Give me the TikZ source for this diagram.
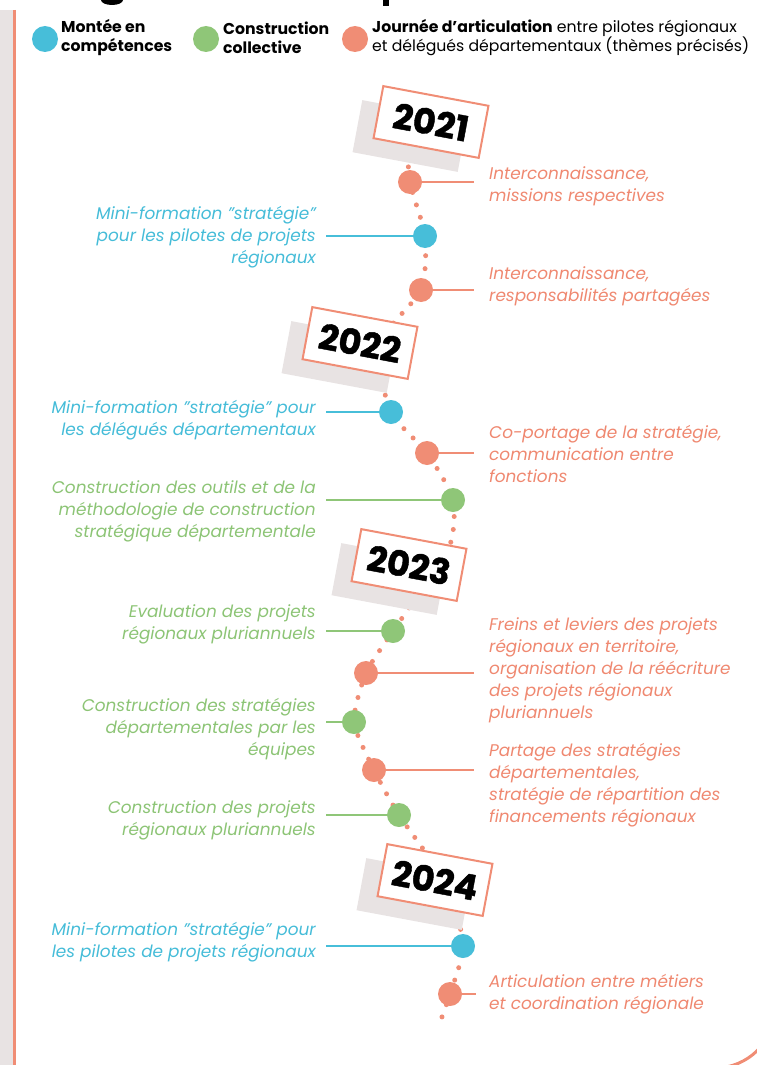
\documentclass[tikz,border=0pt]{standalone}
\usepackage{fontspec}
\setmainfont{Poppins}
\definecolor{cblue}{HTML}{47BED9}
\definecolor{cgreen}{HTML}{8FC678}
\definecolor{corange}{HTML}{F08D75}
\definecolor{tblue}{HTML}{45BCD8}
\definecolor{tgreen}{HTML}{8CC475}
\definecolor{torange}{HTML}{EF8870}
\definecolor{cshadow}{HTML}{E8E3E3}
\begin{document}
\begin{tikzpicture}[x=1pt,y=-1pt,
  evt/.style={circle, minimum size=24pt, inner sep=0pt},
  bdot/.style={evt, fill=cblue},
  gdot/.style={evt, fill=cgreen},
  odot/.style={evt, fill=corange},
  legdot/.style={circle, minimum size=26pt, inner sep=0pt},
  legtext/.style={anchor=west, align=left, inner sep=0pt, font=\fontsize{15.7}{19}\selectfont},
  rtext/.style={anchor=west, align=left, inner sep=0pt, font=\fontsize{16.9}{22}\selectfont\itshape},
  ltext/.style={anchor=east, align=right, inner sep=0pt, font=\fontsize{16.9}{22}\selectfont\itshape},
  yearbox/.style={draw=corange, line width=2pt, fill=white, minimum width=107pt, minimum height=53pt, rotate=-10.6, inner sep=0pt, font=\fontsize{35}{35}\selectfont\bfseries\addfontfeature{FakeBold=1.2}},
  yearshadow/.style={fill=cshadow, minimum width=107pt, minimum height=53pt, rotate=-10.6, inner sep=0pt},
  trail/.style={draw=corange, line width=5pt, line cap=round, dash pattern=on 0pt off 13pt},
  stem/.style={line width=2.5pt}
]
\useasboundingbox (0,0) rectangle (756,1065);

% frame
\fill[cshadow] (0,10) rectangle (12.5,1065);
\coordinate (ftop) at (14,10);
\coordinate (fbot) at (14,1068);
\draw[corange, line width=3pt] (ftop) -- (fbot);
\coordinate (cb1) at (400,1068);
\coordinate (cb2) at (775,1068);
\coordinate (cb3) at (775,900);
\draw[corange, line width=3pt, rounded corners=60pt] (cb1) -- (cb2) -- (cb3);

% title fragments cut at top
\fill[black] (112,0) ellipse (11pt and 5pt);
\fill[black] (383,0) rectangle (389,6);

% legend
\node[legdot, fill=cblue] (lb) at (45,39) {};
\node[legtext] (lbt) at (61,38) {\bfseries Montée en\\\bfseries compétences};
\node[legdot, fill=cgreen] (lg) at (206,39) {};
\node[legtext] (lgt) at (223,38) {\bfseries Construction\\\bfseries collective};
\node[legdot, fill=corange] (lo) at (355,39) {};
\node[legtext] (lot) at (372,38) {\textbf{Journée d’articulation} entre pilotes régionaux\\et délégués départementaux (thèmes précisés)};

% positions
\coordinate (p0) at (405,115);
\coordinate (p1) at (410,182);
\coordinate (p2) at (425,236);
\coordinate (p3) at (421,290);
\coordinate (q2) at (378,345);
\coordinate (p4) at (391,412);
\coordinate (p5) at (427,453);
\coordinate (p6) at (453,500);
\coordinate (q3) at (448,550);
\coordinate (p7) at (393,631);
\coordinate (p8) at (366,673);
\coordinate (p9) at (354,722);
\coordinate (p10) at (374,770);
\coordinate (p11) at (399,815);
\coordinate (q4) at (447,885);
\coordinate (p12) at (463,946);
\coordinate (p13) at (450,994);
\coordinate (pend) at (439,1025);

% dotted trail
\draw[trail] plot[smooth, tension=0.4] coordinates {(p0) (p1) (p2) (p3) (q2) (p4) (p5) (p6) (q3) (p7) (p8) (p9) (p10) (p11) (q4) (p12) (p13) (pend)};

% year boxes
\node[yearshadow] (s21) at (410,136) {};
\node[yearbox] (y21) at (431,122) {2021};
\node[yearshadow] (s22) at (339,357) {};
\node[yearbox] (y22) at (360,343) {2022};
\node[yearshadow] (s23) at (389,579) {};
\node[yearbox] (y23) at (409,565) {2023};
\node[yearshadow] (s24) at (414,894) {};
\node[yearbox] (y24) at (435,880) {2024};

% stem ends
\coordinate (e1) at (474,182);
\coordinate (e2) at (326,236);
\coordinate (e3) at (474,290);
\coordinate (e4) at (326,412);
\coordinate (e5) at (474,453);
\coordinate (e6) at (326,500);
\coordinate (e7) at (326,631);
\coordinate (e8) at (474,673);
\coordinate (e9) at (326,722);
\coordinate (e10) at (474,770);
\coordinate (e11) at (326,815);
\coordinate (e12) at (326,946);
\coordinate (e13) at (476,994);

\draw[stem, corange] (p1) -- (e1);
\draw[stem, cblue] (p2) -- (e2);
\draw[stem, corange] (p3) -- (e3);
\draw[stem, cblue] (p4) -- (e4);
\draw[stem, corange] (p5) -- (e5);
\draw[stem, cgreen] (p6) -- (e6);
\draw[stem, cgreen] (p7) -- (e7);
\draw[stem, corange] (p8) -- (e8);
\draw[stem, cgreen] (p9) -- (e9);
\draw[stem, corange] (p10) -- (e10);
\draw[stem, cgreen] (p11) -- (e11);
\draw[stem, cblue] (p12) -- (e12);
\draw[stem, corange] (p13) -- (e13);

% events
\node[odot] (n1) at (p1) {};
\node[bdot] (n2) at (p2) {};
\node[odot] (n3) at (p3) {};
\node[bdot] (n4) at (p4) {};
\node[odot] (n5) at (p5) {};
\node[gdot] (n6) at (p6) {};
\node[gdot] (n7) at (p7) {};
\node[odot] (n8) at (p8) {};
\node[gdot] (n9) at (p9) {};
\node[odot] (n10) at (p10) {};
\node[gdot] (n11) at (p11) {};
\node[bdot] (n12) at (p12) {};
\node[odot] (n13) at (p13) {};

% labels
\node[rtext, text=torange] (t1) at (489,186) {Interconnaissance,\\missions respectives};
\node[ltext, text=tblue] (t2) at (316,237.5) {Mini-formation "stratégie"\\pour les pilotes de projets\\régionaux};
\node[rtext, text=torange] (t3) at (489,286) {Interconnaissance,\\responsabilités partagées};
\node[ltext, text=tblue] (t4) at (316,420) {Mini-formation "stratégie" pour\\les délégués départementaux};
\node[rtext, text=torange] (t5) at (489,454) {Co-portage de la stratégie,\\communication entre\\fonctions};
\node[ltext, text=tgreen] (t6) at (316,511) {Construction des outils et de la\\méthodologie de construction\\stratégique départementale};
\node[ltext, text=tgreen] (t7) at (316,624) {Evaluation des projets\\régionaux pluriannuels};
\node[rtext, text=torange] (t8) at (489,670.5) {Freins et leviers des projets\\régionaux en territoire,\\organisation de la réécriture\\des projets régionaux\\pluriannuels};
\node[ltext, text=tgreen] (t9) at (316,729) {Construction des stratégies\\départementales par les\\équipes};
\node[rtext, text=torange] (t10) at (489,785.5) {Partage des stratégies\\départementales,\\stratégie de répartition des\\financements régionaux};
\node[ltext, text=tgreen] (t11) at (316,820) {Construction des projets\\régionaux pluriannuels};
\node[ltext, text=tblue] (t12) at (316,942) {Mini-formation "stratégie" pour\\les pilotes de projets régionaux};
\node[rtext, text=torange] (t13) at (489,994) {Articulation entre métiers\\et coordination régionale};
\end{tikzpicture}
\end{document}
